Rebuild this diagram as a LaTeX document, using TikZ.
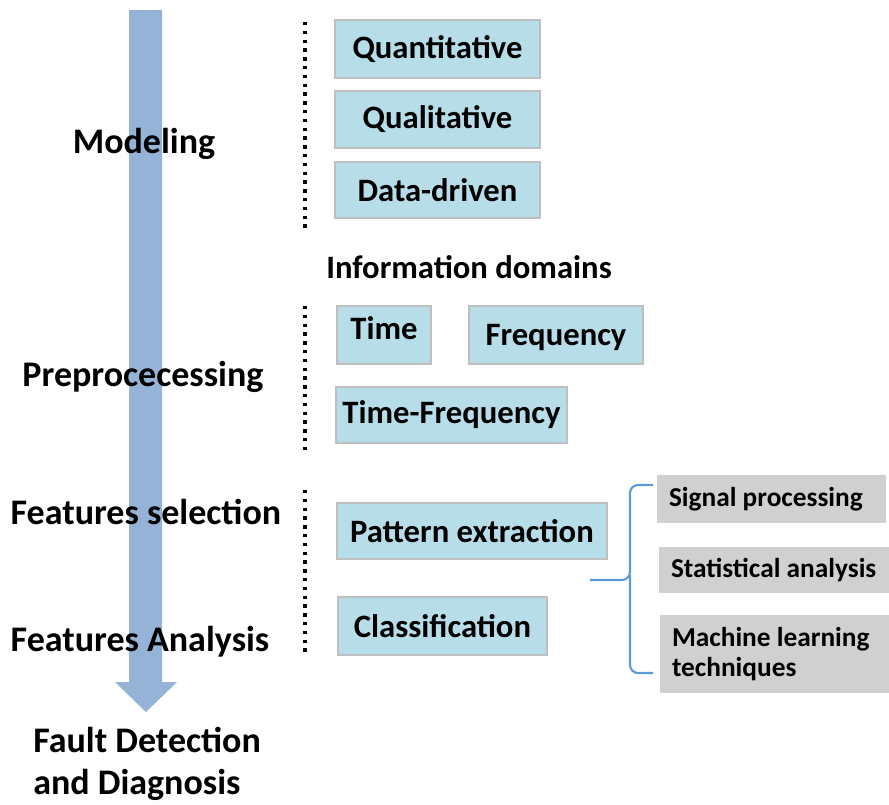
\documentclass[tikz,border=0pt]{standalone}
\usepackage{fontspec}
\setmainfont{Carlito}
\definecolor{arrowblue}{HTML}{95B3D7}
\definecolor{boxblue}{HTML}{B7DEE8}
\definecolor{boxgray}{HTML}{D0D0D0}
\definecolor{bracketblue}{HTML}{5B9BD5}
\definecolor{borderg}{HTML}{BFBFBF}
\begin{document}
\begin{tikzpicture}[x=0.75pt,y=-0.75pt,
  bigtext/.style={font=\fontsize{27}{32}\selectfont\bfseries, inner sep=0pt},
  bluebox/.style={draw=borderg, line width=1.5pt, fill=boxblue, inner sep=0pt,
    font=\fontsize{24.5}{29}\selectfont\bfseries},
  fixedtext/.style={text height=18pt, text depth=5pt},
  graybox/.style={fill=boxgray, inner xsep=9pt, inner ysep=0pt, align=flush left,
    font=\fontsize{20.5}{23}\selectfont\bfseries},
  dotline/.style={line width=2.6pt, dash pattern=on 2.6pt off 4pt},
  bracket/.style={draw=bracketblue, line width=1.6pt, rounded corners=6pt}
]
\useasboundingbox (0,0) rectangle (889,804);
% big arrow
\fill[arrowblue] (129,10) -- (162,10) -- (162,682) -- (177,682) -- (146,712) -- (115,682) -- (129,682) -- cycle;
% left labels
\node[bigtext] (modeling) at (144,144) {Modeling};
\node[bigtext] (prep) at (143,377) {Preprocecessing};
\node[bigtext] (fsel) at (146,512) {Features selection};
\node[bigtext] (fana) at (140,642) {Features Analysis};
\node[bigtext, align=left, anchor=north west, font=\fontsize{27}{31.5}\selectfont\bfseries] (fdd) at (33,727) {Fault Detection\\and Diagnosis};
% dotted lines
\coordinate (d1a) at (305,22); \coordinate (d1b) at (305,230);
\coordinate (d2a) at (305,306); \coordinate (d2b) at (305,453);
\coordinate (d3a) at (305,490); \coordinate (d3b) at (305,657);
\draw[dotline] (d1a) -- (d1b);
\draw[dotline] (d2a) -- (d2b);
\draw[dotline] (d3a) -- (d3b);
% modeling boxes
\node[bluebox, minimum width=205*0.75pt, minimum height=58*0.75pt] (quant) at (437.5,49) {Quantitative};
\node[bluebox, minimum width=205*0.75pt, minimum height=57*0.75pt] (qual) at (437.5,119.5) {Qualitative};
\node[bluebox, minimum width=205*0.75pt, minimum height=56*0.75pt] (data) at (437.5,190) {Data-driven};
% information domains
\node[bluebox, draw=none, fill=none] (info) at (469,267) {Information domains};
\node[bluebox, fixedtext, minimum width=94*0.75pt, minimum height=58*0.75pt] (time) at (384,335) {\raisebox{3pt}{Time}};
\node[bluebox, fixedtext, minimum width=174*0.75pt, minimum height=58*0.75pt] (freq) at (556,335) {\raisebox{-1.5pt}{Frequency}};
\node[bluebox, minimum width=231*0.75pt, minimum height=56*0.75pt] (tf) at (451.5,415) {Time-Frequency};
% features
\node[bluebox, minimum width=270*0.75pt, minimum height=56*0.75pt] (pat) at (472,531) {Pattern extraction};
\node[bluebox, minimum width=209*0.75pt, minimum height=58*0.75pt] (cls) at (442.5,626) {Classification};
% gray boxes
\node[graybox, text width=205*0.75pt, minimum height=48*0.75pt] (sig) at (771.5,499) {Signal processing};
\node[graybox, text width=209*0.75pt, minimum height=46*0.75pt] (stat) at (775.5,570) {Statistical analysis};
\node[graybox, text width=208*0.75pt, minimum height=78*0.75pt] (ml) at (776,654) {Machine learning\\techniques};
% bracket
\coordinate (btop) at (653,485);
\coordinate (bmid) at (590,580);
\coordinate (bbot) at (653,673);
\draw[bracket] (btop) -- (630,485) -- (630,580) -- (bmid);
\draw[bracket] (630,575) -- (630,673) -- (bbot);
\end{tikzpicture}
\end{document}
